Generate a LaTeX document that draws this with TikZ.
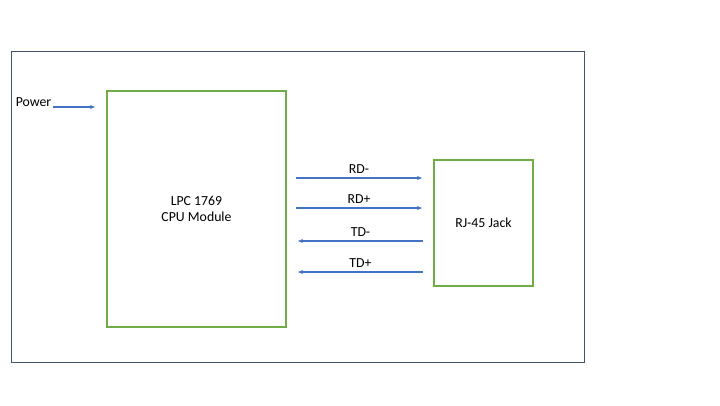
\documentclass[tikz,border=0pt]{standalone}
\usepackage{fontspec}
\setmainfont{Carlito}
\usetikzlibrary{arrows.meta}

\definecolor{framecol}{HTML}{44546A}
\definecolor{boxgreen}{HTML}{70AD47}
\definecolor{wireblue}{HTML}{4472C4}

\tikzset{
  greenbox/.style={draw=boxgreen, line width=2pt, align=center},
  wire/.style={draw=wireblue, line width=1.4pt, -{Stealth[length=5pt,width=4pt]}},
  lbl/.style={above, inner sep=3.5pt}
}

\begin{document}
\begin{tikzpicture}[x=1pt, y=-1pt, font=\fontsize{13.8}{16}\selectfont]
\useasboundingbox (0,0) rectangle (720,405);

\node[draw=framecol, line width=1pt, minimum width=573, minimum height=311] (board) at (297.5,206.5) {};

\node[greenbox, minimum width=179, minimum height=236] (cpu) at (196.5,209) {LPC 1769\\CPU Module};
\node[greenbox, minimum width=99, minimum height=126] (jack) at (483.5,223) {RJ-45 Jack};

\node[inner sep=0pt] (power) at (33.5,102.5) {Power};
\coordinate (pin) at (95,107);
\draw[wire] (power.east |- pin) ++(2,0) -- (pin);

% rx pair, cpu to jack
\draw[wire] ([shift={(9,-31)}]cpu.east) -- node[lbl] {RD-} ([shift={(-11,-45)}]jack.west);
\draw[wire] ([shift={(9,-1)}]cpu.east) -- node[lbl] {RD+} ([shift={(-11,-15)}]jack.west);
% tx pair, jack to cpu
\draw[wire] ([shift={(-10,18)}]jack.west) -- node[lbl] {TD-} ([shift={(11,32)}]cpu.east);
\draw[wire] ([shift={(-10,49)}]jack.west) -- node[lbl] {TD+} ([shift={(11,63)}]cpu.east);
\end{tikzpicture}
\end{document}
